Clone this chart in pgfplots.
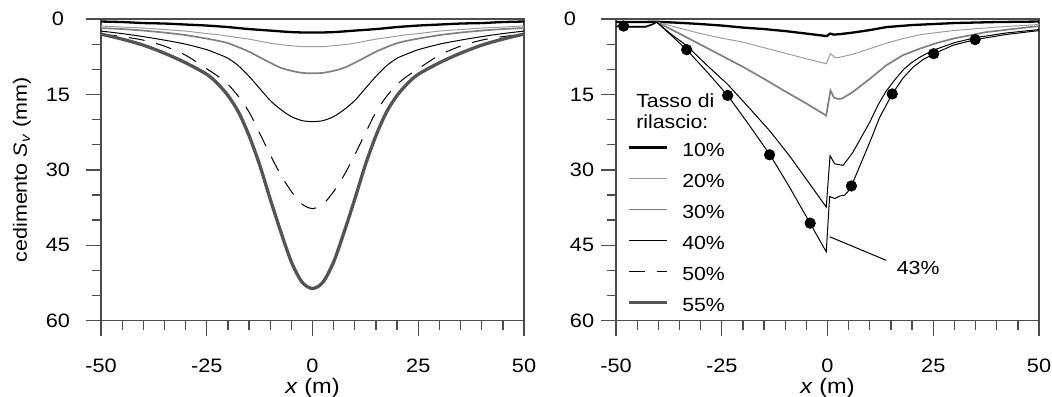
\documentclass[border=0pt]{standalone}
\usepackage{fontspec}
\setmainfont{Liberation Sans}[FakeStretch=1.12]
\usepackage{pgfplots}
\pgfplotsset{compat=1.18}

\definecolor{g20}{gray}{0.62}
\definecolor{g30}{gray}{0.5}
\definecolor{g55}{gray}{0.33}
\definecolor{axc}{gray}{0.3}

\pgfplotsset{
  base/.style={
    scale only axis, width=211.5pt, height=150.85pt,
    xmin=-50, xmax=50, ymin=0, ymax=60, y dir=reverse,
    axis line style={axc, line width=0.65pt},
    every tick/.style={axc, line width=0.65pt},
    tick align=outside,
    major tick length=7.5pt, minor tick length=4.5pt,
    xtick={-50,-25,0,25,50}, xticklabels={-50,-25,0,25,50},
    minor x tick num=4,
    ytick={0,15,30,45,60},
    minor y tick num=2,
    xtick pos=bottom, ytick pos=left,
    tick label style={font=\fontsize{9.7pt}{11pt}\selectfont},
    xticklabel style={yshift=-8pt},
    xlabel={\textit{x} (m)},
    xlabel style={at={(axis description cs:0.5,-0.2397)}, anchor=base,
      font=\fontsize{10.5pt}{12pt}\selectfont},
  },
  c10/.style={black, line width=1.15pt},
  c20/.style={g20, line width=0.5pt},
  c30/.style={g30, line width=0.85pt},
  c40/.style={black, line width=0.5pt},
  c50/.style={black, line width=0.5pt, dash pattern=on 8pt off 6pt},
  c55/.style={g55, line width=1.65pt},
}

\begin{document}
\begin{tikzpicture}[font=\fontsize{9.5pt}{11pt}\selectfont]
\useasboundingbox (-50.5pt,-37.65pt) rectangle (475.5pt,160.35pt);

% ---------------- left panel ----------------
\begin{axis}[base, at={(0pt,0pt)}, anchor=south west,
  yticklabels={0,15,30,45,60},
  yticklabel style={anchor=center, xshift=-14pt},
  ylabel={cedimento \textit{S}\textsubscript{\textit{v}} (mm)},
  ylabel style={at={(axis description cs:-0.1868,0.5)}, anchor=center,
    font=\fontsize{9.6pt}{11pt}\selectfont},
]
\addplot[c10, smooth] coordinates {
(-50,0.5)(-45,0.6)(-40,0.8)(-35,0.9)(-30,1.1)(-25,1.3)(-20,1.6)(-15,2.0)(-10,2.3)(-5,2.6)(0,2.7)
(5,2.6)(10,2.3)(15,2.0)(20,1.6)(25,1.3)(30,1.1)(35,0.9)(40,0.8)(45,0.6)(50,0.5)};
\addplot[c20, smooth] coordinates {
(-50,1.4)(-45,1.6)(-40,1.8)(-35,2.1)(-30,2.4)(-25,2.9)(-22.5,3.1)(-20,3.4)(-17.5,3.7)(-15,4.0)(-12.5,4.4)(-10,4.8)(-7.5,5.1)(-5,5.3)(-2.5,5.5)(0,5.5)
(2.5,5.5)(5,5.3)(7.5,5.1)(10,4.8)(12.5,4.4)(15,4.0)(17.5,3.7)(20,3.4)(22.5,3.1)(25,2.9)(30,2.4)(35,2.1)(40,1.8)(45,1.6)(50,1.4)};
\addplot[c30, smooth] coordinates {
(-50,1.8)(-45,2.0)(-40,2.3)(-35,2.7)(-30,3.2)(-25,3.9)(-22.5,4.3)(-20,4.8)(-17.5,5.6)(-15,6.5)(-12.5,7.6)(-10,8.7)(-7.5,9.7)(-5,10.3)(-2.5,10.7)(0,10.8)
(2.5,10.7)(5,10.3)(7.5,9.7)(10,8.7)(12.5,7.6)(15,6.5)(17.5,5.6)(20,4.8)(22.5,4.3)(25,3.9)(30,3.2)(35,2.7)(40,2.3)(45,2.0)(50,1.8)};
\addplot[c40, smooth] coordinates {
(-50,2.4)(-45,2.9)(-40,3.5)(-35,4.2)(-30,5.0)(-25,6.1)(-22.5,6.9)(-20,7.8)(-17.5,9.3)(-15,11.4)(-12.5,13.8)(-10,16.2)(-7.5,18.0)(-5,19.4)(-2.5,20.2)(0,20.4)
(2.5,20.2)(5,19.4)(7.5,18.0)(10,16.2)(12.5,13.8)(15,11.4)(17.5,9.3)(20,7.8)(22.5,6.9)(25,6.1)(30,5.0)(35,4.2)(40,3.5)(45,2.9)(50,2.4)};
\addplot[c50, smooth] coordinates {
(-50,3.0)(-45,3.5)(-40,4.2)(-35,5.4)(-30,7.2)(-25,9.9)(-22.5,11.3)(-20,13.0)(-17.5,15.4)(-15,18.5)(-12.5,22.7)(-10,27.0)(-7.5,31.0)(-5,34.3)(-2.5,36.8)(0,37.7)
(2.5,36.8)(5,34.3)(7.5,31.0)(10,27.0)(12.5,22.7)(15,18.5)(17.5,15.4)(20,13.0)(22.5,11.3)(25,9.9)(30,7.2)(35,5.4)(40,4.2)(45,3.5)(50,3.0)};
\addplot[c55, smooth] coordinates {
(-50,3.0)(-45,4.0)(-40,5.2)(-35,6.8)(-30,8.7)(-25,11.0)(-22.5,12.8)(-20,15.2)(-17.5,18.5)(-15,23.2)(-12.5,29.0)(-10,35.8)(-7.5,42.3)(-5,48.3)(-2.5,52.3)(0,53.6)
(2.5,52.3)(5,48.3)(7.5,42.3)(10,35.8)(12.5,29.0)(15,23.2)(17.5,18.5)(20,15.2)(22.5,12.8)(25,11.0)(30,8.7)(35,6.8)(40,5.2)(45,4.0)(50,3.0)};
\end{axis}

% ---------------- right panel ----------------
\begin{axis}[base, at={(257.5pt,0pt)}, anchor=south west,
  yticklabels={\makebox[0pt][r]{0}\hphantom{0},15,30,45,60},
  yticklabel style={anchor=center, xshift=-9.5pt},
  legend cell align=left,
  legend image code/.code={\draw[#1] (0pt,3.3pt) -- (19pt,3.3pt);},
  legend style={draw=none, fill=none, inner sep=0pt, outer sep=0pt,
    at={(axis cs:-47.4,23.8)}, anchor=north west, row sep=0pt,
    nodes={inner sep=0pt, text height=9pt, text depth=6.5pt},
    /tikz/every odd column/.append style={column sep=7pt}},
]
\addplot[c10] coordinates {
(-50,0.6)(-45,0.6)(-40.4,0.55)(-35,0.75)(-30,1.0)(-25,1.3)(-20,1.7)(-15,2.0)(-10,2.4)(-5,2.9)(-0.2,3.4)
(0.6,2.9)(1.5,3.1)(3,3.0)(6,2.7)(10,2.2)(14,1.6)(20,1.2)(25,1.0)(30,0.8)(40,0.6)(50,0.5)};
\addlegendentry{10\%}
\addplot[c20] coordinates {
(-50,1.4)(-47,1.5)(-43,1.5)(-41.5,1.2)(-40.4,0.6)(-35,1.8)(-30,2.9)(-25,3.8)(-20,4.6)(-15,5.7)(-10,6.8)(-5,7.9)(-0.3,8.9)
(0.7,6.9)(1.8,7.7)(3,7.6)(6,7.0)(10,5.9)(14,4.8)(17.8,3.9)(22,3.1)(29.7,2.3)(40,1.6)(50,1.1)};
\addlegendentry{20\%}
\addplot[c30] coordinates {
(-50,1.4)(-47,1.5)(-43,1.5)(-41.5,1.1)(-40.4,0.6)(-35,2.9)(-30,5.1)(-25,7.3)(-20,9.5)(-15,11.9)(-10,14.4)(-5,16.8)(-0.3,19.2)
(0.7,14.2)(1.5,15.6)(2.5,15.9)(3.5,15.8)(6,14.5)(10,11.9)(13.9,9.2)(17.8,7.2)(21.8,5.9)(25.7,4.8)(29.7,3.9)(37.5,2.6)(50,1.4)};
\addlegendentry{30\%}
\addplot[c40] coordinates {
(-50,1.4)(-47,1.5)(-43,1.5)(-41.5,1.1)(-40.4,0.6)(-37,3.0)(-33.3,5.3)(-28.5,9.2)(-23.6,13.0)(-18.6,17.6)(-13.6,22.3)(-9,27.2)(-4.2,32.8)(-0.3,37.4)
(0.6,27.2)(1.7,28.8)(3.7,29.1)(6,26.5)(8,23.5)(10,20.5)(12,17.0)(13.9,14.3)(16,12.0)(18,10.0)(20,8.6)(22,7.5)(25,6.2)(30,4.7)(35,3.7)(42,2.8)(50,2.1)};
\addlegendentry{40\%}
% 43 % curve (no legend entry)
\addplot[c40, forget plot] coordinates {
(-50,1.5)(-47,1.6)(-43,1.6)(-41.5,1.1)(-40.4,0.6)(-37,3.2)(-33.3,6.1)(-28.5,10.5)(-23.6,15.2)(-18.6,21.0)(-13.6,27.0)(-9,33.4)(-4.2,40.5)(-0.3,46.3)
(0.5,35.3)(1.7,35.7)(2.9,35.2)(4.1,35.0)(4.85,34.3)(5.65,33.2)(8,28.5)(10,24.5)(12.3,19.6)(15.3,14.9)(17.8,11.8)(20.2,9.6)(22.5,8.1)(25.2,6.9)(29.7,5.2)(34.9,4.1)(42,3.1)(50,2.3)};
% measured points
\addplot[only marks, mark=*, mark size=2.6pt, black, forget plot] coordinates {
(-48.2,1.4)(-33.3,6.1)(-23.6,15.2)(-13.7,27.0)(-4.1,40.6)(5.65,33.2)(15.3,14.9)(25.1,6.9)(34.9,4.1)};
% leader of the 43 % label
\addplot[black, line width=0.5pt, forget plot] coordinates {(0.5,43.3)(13.9,48.0)};
\node[anchor=west, inner sep=0pt] at (axis cs:16.3,49.5) {43\%};
\addlegendimage{c50}
\addlegendentry{50\%}
\addlegendimage{c55}
\addlegendentry{55\%}
\node[anchor=north west, inner sep=0pt, align=left, font=\fontsize{9.5pt}{10.5pt}\selectfont]
  at (axis cs:-45.3,14.8) {Tasso di\\rilascio:};
\end{axis}
\end{tikzpicture}
\end{document}
